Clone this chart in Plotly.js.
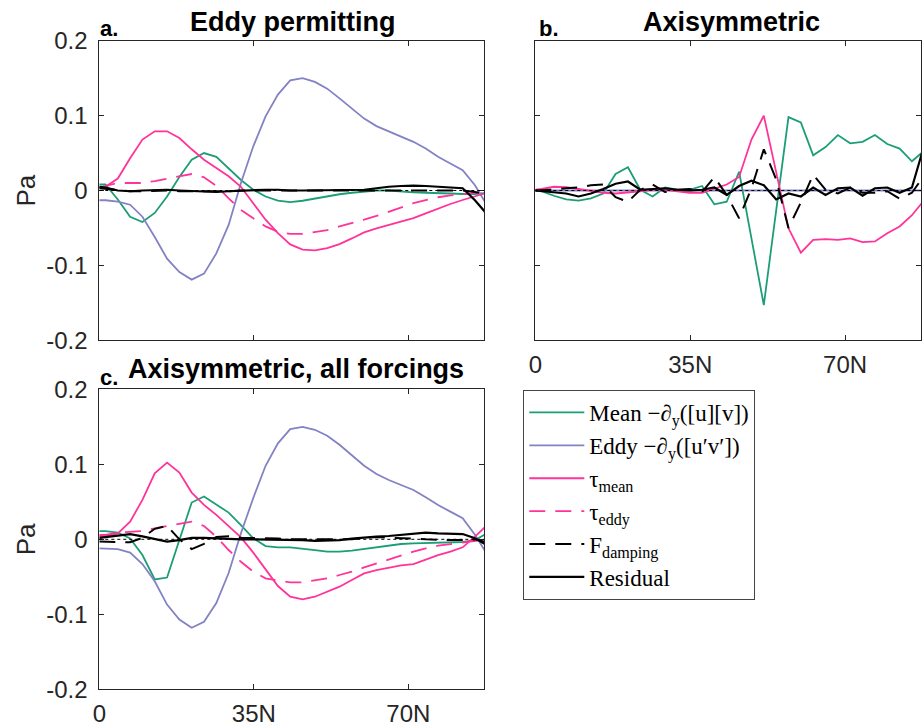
<!DOCTYPE html>
<html>
<head>
<meta charset="utf-8">
<script src="https://cdn.plot.ly/plotly-3.0.1.min.js"></script>
<style>html,body{margin:0;padding:0;background:#fff;}#chart{width:922px;height:727px;}</style>
</head>
<body>
<div id="chart"></div>
<script>
// Latitude (degrees N)
const lat = [0, 1.40, 4.19, 6.98, 9.77, 12.56, 15.35, 18.14, 20.93, 23.72, 26.51, 29.30, 32.09, 34.88, 37.67, 40.46, 43.25, 46.05, 48.84, 51.63, 54.42, 57.21, 60.00, 62.79, 65.58, 68.37, 71.16, 73.95, 76.74, 79.53, 82.32, 85.10, 87.86];
const xTickVals = [0, 35, 70];
const xTickText = ['0', '35N', '70N'];
const yTickVals = [-0.2, -0.1, 0, 0.1, 0.2];
const yTickText = ['-0.2', '-0.1', '0', '0.1', '0.2'];
const seriesNames = ['Mean −∂<sub>y</sub>([u][v])', 'Eddy −∂<sub>y</sub>([u′v′])', 'τ<sub>mean</sub>', 'τ<sub>eddy</sub>', 'F<sub>damping</sub>', 'Residual'];
const panelTitles = ['Eddy permitting', 'Axisymmetric', 'Axisymmetric, all forcings'];
const panelLetters = ['a.', 'b.', 'c.'];

// Panel a: Eddy permitting (Pa)
const meanA  = [0.008, 0.008, -0.012, -0.035, -0.042, -0.030, -0.008, 0.018, 0.041, 0.050, 0.045, 0.030, 0.014, 0.001, -0.008, -0.0135, -0.0155, -0.0137, -0.0107, -0.0076, -0.005, -0.003, -0.0016, 0, 0, -0.0016, -0.0025, -0.003, -0.004, -0.004, -0.0047, -0.0047, -0.003];
const eddyA  = [-0.013, -0.013, -0.015, -0.019, -0.035, -0.062, -0.091, -0.109, -0.119, -0.111, -0.084, -0.046, 0.010, 0.059, 0.099, 0.128, 0.147, 0.150, 0.145, 0.136, 0.123, 0.110, 0.096, 0.086, 0.079, 0.072, 0.065, 0.056, 0.045, 0.036, 0.027, 0.007, -0.020];
const tmeanA = [0.004, 0.005, 0.016, 0.043, 0.068, 0.079, 0.079, 0.070, 0.055, 0.041, 0.030, 0.019, 0.005, -0.017, -0.039, -0.057, -0.072, -0.079, -0.080, -0.077, -0.0715, -0.064, -0.056, -0.0506, -0.046, -0.0416, -0.037, -0.0305, -0.024, -0.018, -0.0127, -0.0073, -0.003];
const teddyA = [0.004, 0.006, 0.010, 0.010, 0.010, 0.0126, 0.016, 0.019, 0.022, 0.0176, 0.006, -0.0105, -0.026, -0.037, -0.048, -0.055, -0.058, -0.058, -0.056, -0.053, -0.048, -0.044, -0.039, -0.034, -0.028, -0.0225, -0.017, -0.0127, -0.009, -0.0065, -0.0047, -0.003, -0.0015];
const fdampA = [0.003, 0.002, 0.000, -0.001, -0.001, 0.000, 0.000, -0.001, -0.001, -0.001, -0.002, -0.001, 0.000, 0.000, 0.000, 0.000, 0.000, 0.000, 0.000, 0.000, 0.000, 0.000, 0.000, 0.000, 0.001, 0.001, 0.000, 0.000, 0.000, 0.000, 0.000, -0.002, -0.005];
const resA   = [0.005, 0.004, 0.000, -0.001, 0.000, 0.001, 0.001, 0.000, -0.001, -0.002, -0.002, -0.001, 0.000, 0.000, 0.001, 0.001, 0.000, 0.000, 0.000, 0.000, 0.000, 0.001, 0.001, 0.003, 0.005, 0.006, 0.0065, 0.006, 0.005, 0.004, 0.003, -0.013, -0.032];

// Panel b: Axisymmetric (Pa)
const meanB  = [0, -0.001, -0.007, -0.0118, -0.0136, -0.0105, -0.004, 0.022, 0.031, 0.001, -0.008, 0.004, 0.001, 0.001, 0.006, -0.0185, -0.015, 0.025, -0.064, -0.153, -0.027, 0.098, 0.091, 0.047, 0.058, 0.074, 0.063, 0.065, 0.074, 0.062, 0.056, 0.039, 0.053];
const eddyB  = [0, 0, 0, 0, 0, 0, 0, 0, 0, 0, 0, 0, 0, 0, 0, 0, 0, 0, 0, 0, 0, 0, 0, 0, 0, 0, 0, 0, 0, 0, 0, 0, 0];
const tmeanB = [0.001, 0.002, 0.005, 0.0045, 0.002, -0.001, -0.003, -0.004, -0.003, -0.001, 0.001, 0.001, -0.001, -0.003, -0.003, 0.002, 0.008, 0.018, 0.068, 0.100, 0.025, -0.0505, -0.083, -0.066, -0.065, -0.066, -0.064, -0.069, -0.068, -0.057, -0.048, -0.033, -0.013];
const fdampB = [0, 0.000, 0.001, 0.003, 0.004, 0.007, 0.008, -0.009, -0.015, 0.001, 0.008, -0.002, 0.001, 0.002, -0.002, 0.018, -0.006, -0.037, 0.003, 0.055, 0.015, -0.050, -0.016, 0.021, 0.001, -0.004, 0.004, -0.003, -0.003, -0.001, -0.011, -0.003, 0.020];
const resB   = [0, -0.001, -0.002, -0.004, -0.008, -0.004, 0.002, 0.009, 0.012, 0.001, 0.002, 0.003, 0.001, 0.000, 0.001, 0.004, -0.006, 0.006, 0.013, 0.007, -0.012, -0.004, -0.008, 0.004, -0.006, 0.003, 0.004, -0.007, 0.003, 0.004, -0.003, 0.004, 0.060];

// Panel c: Axisymmetric, all forcings (Pa)
const meanC  = [0.011, 0.011, 0.009, 0.001, -0.021, -0.0535, -0.051, -0.001, 0.049, 0.057, 0.046, 0.0356, 0.019, 0.0013, -0.009, -0.0107, -0.0107, -0.012, -0.0143, -0.0165, -0.0165, -0.015, -0.013, -0.0107, -0.008, -0.0063, -0.0054, -0.005, -0.0045, -0.004, -0.0036, -0.001, 0.008];
const eddyC  = [-0.012, -0.0125, -0.013, -0.0178, -0.033, -0.056, -0.087, -0.107, -0.118, -0.110, -0.085, -0.045, 0.008, 0.055, 0.098, 0.128, 0.147, 0.150, 0.146, 0.138, 0.126, 0.112, 0.098, 0.087, 0.079, 0.0724, 0.0658, 0.056, 0.0458, 0.0369, 0.028, 0.006, -0.020];
const tmeanC = [0.0044, 0.0044, 0.008, 0.0236, 0.0525, 0.088, 0.1023, 0.089, 0.0623, 0.0458, 0.0325, 0.0178, 0.0026, -0.0178, -0.040, -0.0623, -0.0766, -0.080, -0.0766, -0.070, -0.0632, -0.0543, -0.0454, -0.041, -0.0374, -0.0347, -0.033, -0.0267, -0.021, -0.0165, -0.0107, 0.0036, 0.019];
const teddyC = [0.0058, 0.0058, 0.0089, 0.010, 0.011, 0.0147, 0.0178, 0.020, 0.0236, 0.0178, 0.0035, -0.0143, -0.030, -0.0432, -0.052, -0.055, -0.0574, -0.0574, -0.0552, -0.052, -0.0476, -0.0432, -0.0374, -0.032, -0.0267, -0.0209, -0.0165, -0.012, -0.0085, -0.0063, -0.0045, -0.0018, 0];
const fdampC = [-0.003, -0.003, -0.004, -0.004, 0.002, 0.014, 0.018, 0.000, -0.013, -0.006, 0.003, 0.004, 0.002, 0.002, 0.002, 0.001, 0.000, 0.000, 0.000, 0.000, -0.001, 0.000, 0.002, 0.003, 0.002, 0.002, 0.001, 0.000, -0.001, -0.001, -0.001, 0.000, -0.004];
const resC   = [0.002, 0.003, 0.006, 0.007, 0.004, 0.000, -0.003, -0.001, 0.002, 0.002, 0.001, 0.001, 0.000, 0.000, 0.000, 0.000, 0.000, -0.001, -0.002, -0.002, -0.001, 0.001, 0.0026, 0.0035, 0.0044, 0.006, 0.008, 0.009, 0.008, 0.007, 0.007, 0.0013, -0.008];

// styles
const GREEN = '#1b9e77', PURPLE = '#8282c4', PINK = '#ff3399', BLACK = '#000000';
const DASH = '16px,10px';
const styles = [
  {color: GREEN, width: 1.8, dash: 'solid'},
  {color: PURPLE, width: 1.8, dash: 'solid'},
  {color: PINK, width: 1.8, dash: 'solid'},
  {color: PINK, width: 1.8, dash: DASH},
  {color: BLACK, width: 2.0, dash: DASH},
  {color: BLACK, width: 2.2, dash: 'solid'}
];

const panels = [
  {xa: 'x', ya: 'y', series: [meanA, eddyA, tmeanA, teddyA, fdampA, resA]},
  {xa: 'x2', ya: 'y2', series: [meanB, eddyB, tmeanB, null, fdampB, resB]},
  {xa: 'x3', ya: 'y3', series: [meanC, eddyC, tmeanC, teddyC, fdampC, resC]}
];

const traces = [];
panels.forEach((p, pi) => {
  p.series.forEach((vals, si) => {
    if (!vals) return;
    traces.push({
      type: 'scatter', mode: 'lines', x: lat, y: vals,
      xaxis: p.xa, yaxis: p.ya,
      name: seriesNames[si],
      showlegend: pi === 0,
      line: {color: styles[si].color, width: styles[si].width, dash: styles[si].dash},
      hoverinfo: 'skip'
    });
  });
});

const W = 922, H = 727;
const px = v => v / W;
const py = v => 1 - v / H;
const XMAX = 87.15;
const axisFont = {family: 'Liberation Sans, Arial, sans-serif', size: 24, color: '#262626'};

function xAxis(domain, anchor, showLabels) {
  return {
    domain: domain, anchor: anchor, range: [0, XMAX],
    tickmode: 'array', tickvals: xTickVals, ticktext: xTickText,
    showticklabels: showLabels, ticks: 'inside', ticklen: 5, tickcolor: '#262626', tickwidth: 1,
    showline: true, linecolor: '#262626', linewidth: 1, mirror: 'ticks',
    showgrid: false, zeroline: false, tickfont: axisFont, ticklabelstandoff: 3, fixedrange: true
  };
}
function yAxis(domain, anchor, showLabels) {
  return {
    domain: domain, anchor: anchor, range: [-0.2, 0.2],
    tickmode: 'array', tickvals: yTickVals, ticktext: yTickText,
    showticklabels: showLabels, ticks: 'inside', ticklen: 5, tickcolor: '#262626', tickwidth: 1,
    showline: true, linecolor: '#262626', linewidth: 1, mirror: 'ticks',
    showgrid: false, zeroline: false, tickfont: axisFont, ticklabelstandoff: 6, fixedrange: true
  };
}

const dAx = [px(99.3), px(484)], dBx = [px(535.3), px(921)];
const dTop = [py(340.3), py(40.7)], dBot = [py(689.3), py(389.3)];

const titleFont = {family: 'Liberation Sans, Arial, sans-serif', size: 27, color: '#000'};
const letterFont = {family: 'Liberation Sans, Arial, sans-serif', size: 22, color: '#000'};
const paFont = {family: 'Liberation Sans, Arial, sans-serif', size: 26, color: '#262626'};

const annotations = [
  {text: '<b>' + panelTitles[0] + '</b>', x: px(293), y: py(21.5), xanchor: 'center', yanchor: 'middle', font: titleFont},
  {text: '<b>' + panelTitles[1] + '</b>', x: px(731), y: py(21.5), xanchor: 'center', yanchor: 'middle', font: titleFont},
  {text: '<b>' + panelTitles[2] + '</b>', x: px(295.5), y: py(368.5), xanchor: 'center', yanchor: 'middle', font: titleFont},
  {text: '<b>' + panelLetters[0] + '</b>', x: px(98), y: py(29), xanchor: 'left', yanchor: 'middle', font: letterFont},
  {text: '<b>' + panelLetters[1] + '</b>', x: px(537), y: py(29), xanchor: 'left', yanchor: 'middle', font: letterFont},
  {text: '<b>' + panelLetters[2] + '</b>', x: px(98), y: py(377), xanchor: 'left', yanchor: 'middle', font: letterFont},
  {text: 'Pa', x: px(26), y: py(190.5), xanchor: 'center', yanchor: 'middle', textangle: -90, font: paFont},
  {text: 'Pa', x: px(26), y: py(539.3), xanchor: 'center', yanchor: 'middle', textangle: -90, font: paFont}
].map(a => Object.assign({xref: 'paper', yref: 'paper', showarrow: false}, a));

const zeroLine = (xr, yr) => ({type: 'line', xref: xr, yref: yr, x0: 0, x1: XMAX, y0: 0, y1: 0, layer: 'above',
  line: {color: '#000', width: 1, dash: 'dot'}});

const layout = {
  width: W, height: H,
  margin: {l: 0, r: 0, t: 0, b: 0, pad: 0},
  paper_bgcolor: '#fff', plot_bgcolor: '#fff',
  font: {family: 'Liberation Sans, Arial, sans-serif', color: '#262626'},
  xaxis: xAxis(dAx, 'y', false),
  yaxis: yAxis(dTop, 'x', true),
  xaxis2: xAxis(dBx, 'y2', true),
  yaxis2: yAxis(dTop, 'x2', false),
  xaxis3: xAxis(dAx, 'y3', true),
  yaxis3: yAxis(dBot, 'x3', true),
  shapes: [zeroLine('x', 'y'), zeroLine('x2', 'y2'), zeroLine('x3', 'y3')],
  annotations: annotations,
  showlegend: true,
  legend: {
    x: px(523.3), y: py(600), xanchor: 'left', yanchor: 'bottom',
    bgcolor: '#fff', bordercolor: '#444', borderwidth: 1,
    font: {family: 'Liberation Serif, Times New Roman, serif', size: 23, color: '#000'},
    itemwidth: 55, tracegroupgap: 0, traceorder: 'normal'
  }
};

Plotly.newPlot('chart', traces, layout, {displayModeBar: false, staticPlot: true});
</script>
</body>
</html>
